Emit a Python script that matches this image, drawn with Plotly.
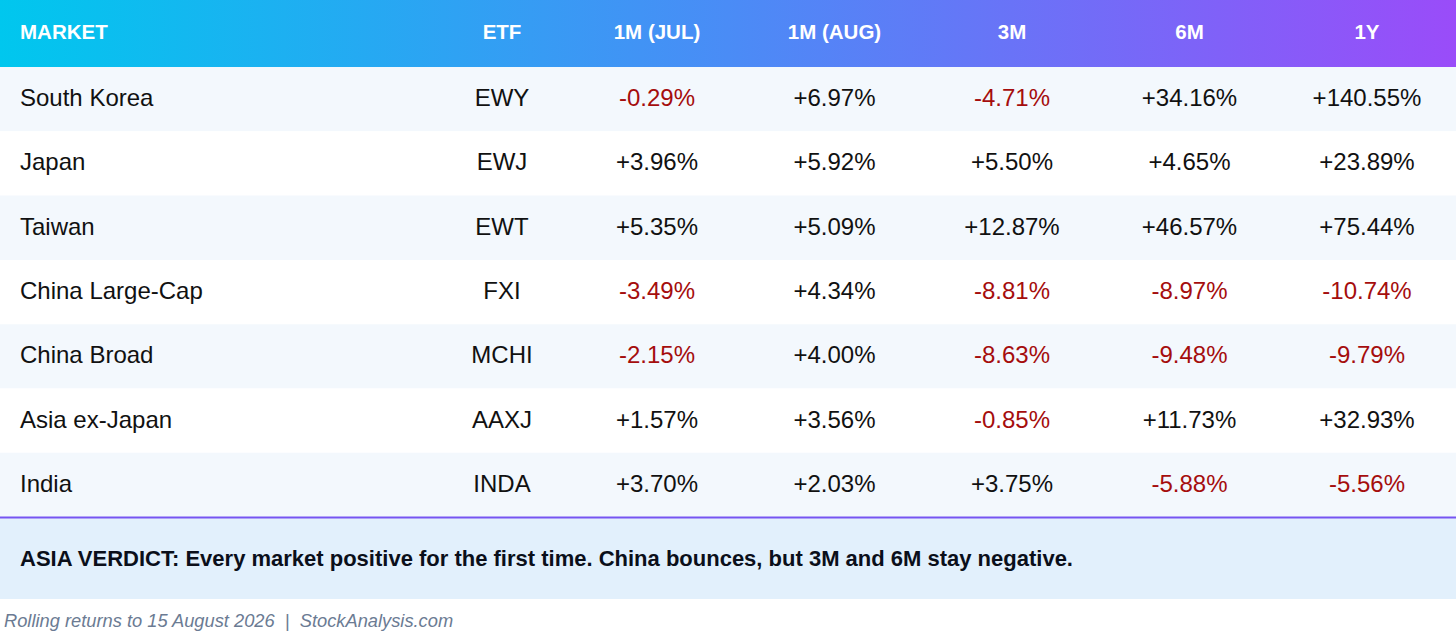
"""Asia ETF rolling returns table."""
import plotly.graph_objects as go

W = 1456
H = 643

HEADERS = ['MARKET', 'ETF', '1M (JUL)', '1M (AUG)', '3M', '6M', '1Y']
MARKETS = ['South Korea', 'Japan', 'Taiwan', 'China Large-Cap', 'China Broad', 'Asia ex-Japan', 'India']
ETFS = ['EWY', 'EWJ', 'EWT', 'FXI', 'MCHI', 'AAXJ', 'INDA']
M1_JUL = [-0.29, 3.96, 5.35, -3.49, -2.15, 1.57, 3.70]
M1_AUG = [6.97, 5.92, 5.09, 4.34, 4.00, 3.56, 2.03]
M3 = [-4.71, 5.50, 12.87, -8.81, -8.63, -0.85, 3.75]
M6 = [34.16, 4.65, 46.57, -8.97, -9.48, 11.73, -5.88]
Y1 = [140.55, 23.89, 75.44, -10.74, -9.79, 32.93, -5.56]

VERDICT = ('ASIA VERDICT: Every market positive for the first time. '
           'China bounces, but 3M and 6M stay negative.')
FOOTER = 'Rolling returns to 15 August 2026  |  StockAnalysis.com'

# layout in pixels
HEAD_H = 67
ROW_H = 64.3
TABLE_END = HEAD_H + ROW_H * len(MARKETS)
VERDICT_END = 599
MARKET_X = 20
ETF_X = 502
VAL_X0 = 657
VAL_STEP = 177.5

FONT = 'Liberation Sans, Arial, sans-serif'
TEXT = '#111111'
NEG = '#a50d0d'

fig = go.Figure()

# row stripes
shapes = []
for i in range(len(MARKETS)):
    y0 = HEAD_H + ROW_H * i
    shapes.append(dict(type='rect', xref='x', yref='y', x0=0, x1=W, y0=y0, y1=y0 + ROW_H,
                       fillcolor='#f3f8fd' if i % 2 == 0 else '#ffffff',
                       line_width=0, layer='below'))
shapes.append(dict(type='rect', xref='x', yref='y', x0=0, x1=W, y0=TABLE_END, y1=VERDICT_END,
                   fillcolor='#e2f0fc', line_width=0, layer='below'))
shapes.append(dict(type='line', xref='x', yref='y', x0=0, x1=W, y0=TABLE_END + 0.5, y1=TABLE_END + 0.5,
                   line=dict(color='#7655f2', width=2)))

# gradient header
fig.add_trace(go.Scatter(
    x=[0, W, W, 0, 0], y=[0, 0, HEAD_H, HEAD_H, 0],
    mode='lines', fill='toself', line=dict(width=0),
    fillgradient=dict(type='horizontal',
                      colorscale=[[0, '#00c7ee'], [0.5, '#4a8cf6'], [1, '#9a4cf9']]),
    hoverinfo='skip', showlegend=False,
))

col_x = [ETF_X] + [VAL_X0 + VAL_STEP * k for k in range(5)]

# header labels
fig.add_trace(go.Scatter(
    x=[MARKET_X], y=[HEAD_H / 2], text=[HEADERS[0]], mode='text',
    textposition='middle right',
    textfont=dict(family=FONT, size=20.5, color='white', weight='bold'),
    hoverinfo='skip', showlegend=False,
))
fig.add_trace(go.Scatter(
    x=col_x, y=[HEAD_H / 2] * len(col_x), text=HEADERS[1:], mode='text',
    textposition='middle center',
    textfont=dict(family=FONT, size=20.5, color='white', weight='bold'),
    hoverinfo='skip', showlegend=False,
))

row_y = [HEAD_H + ROW_H * (i + 0.5) + 1 for i in range(len(MARKETS))]

fig.add_trace(go.Scatter(
    x=[MARKET_X] * len(MARKETS), y=row_y, text=MARKETS, mode='text',
    textposition='middle right',
    textfont=dict(family=FONT, size=24, color=TEXT),
    hoverinfo='skip', showlegend=False,
))
fig.add_trace(go.Scatter(
    x=[ETF_X] * len(ETFS), y=row_y, text=ETFS, mode='text',
    textposition='middle center',
    textfont=dict(family=FONT, size=24, color=TEXT),
    hoverinfo='skip', showlegend=False,
))

for k, series in enumerate([M1_JUL, M1_AUG, M3, M6, Y1]):
    fig.add_trace(go.Scatter(
        x=[col_x[k + 1]] * len(series), y=row_y,
        text=[f'{v:+.2f}%' for v in series], mode='text',
        textposition='middle center',
        textfont=dict(family=FONT, size=24, color=[NEG if v < 0 else TEXT for v in series]),
        hoverinfo='skip', showlegend=False,
    ))

annotations = [
    dict(x=MARKET_X - 2, y=(TABLE_END + VERDICT_END) / 2, xref='x', yref='y', text=VERDICT,
         showarrow=False, xanchor='left', yanchor='middle',
         font=dict(family=FONT, size=22, color='#0b0f1a', weight='bold')),
    dict(x=2, y=620, xref='x', yref='y', text=FOOTER,
         showarrow=False, xanchor='left', yanchor='middle',
         font=dict(family=FONT, size=18.3, color='#6b7b93', style='italic')),
]

fig.update_layout(
    width=W, height=H,
    margin=dict(l=0, r=0, t=0, b=0),
    paper_bgcolor='white', plot_bgcolor='white',
    xaxis=dict(range=[0, W], visible=False, fixedrange=True),
    yaxis=dict(range=[H, 0], visible=False, fixedrange=True),
    shapes=shapes, annotations=annotations,
    showlegend=False,
)

# drop the default page margin so the figure sits at the window corner
fig.write_html('out.html', config={'displayModeBar': False},
               post_script="document.body.style.margin='0';")
